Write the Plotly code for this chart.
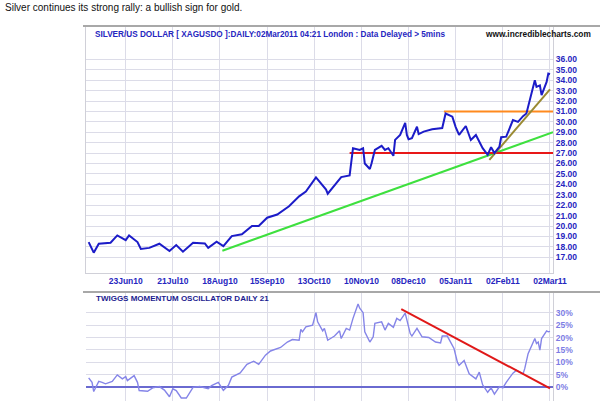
import plotly.graph_objects as go

# ---------------- data ----------------
price_dates = ["2010-06-01","2010-06-04","2010-06-07","2010-06-14","2010-06-18","2010-06-23","2010-06-25",
    "2010-06-30","2010-07-02","2010-07-07","2010-07-13","2010-07-19","2010-07-23","2010-07-27","2010-08-02",
    "2010-08-09","2010-08-11","2010-08-16","2010-08-20","2010-08-25","2010-08-31","2010-09-06","2010-09-10",
    "2010-09-15","2010-09-21","2010-09-28","2010-10-04","2010-10-08","2010-10-14","2010-10-20","2010-10-21",
    "2010-10-26","2010-10-29","2010-11-03","2010-11-05","2010-11-09","2010-11-11","2010-11-12","2010-11-15",
    "2010-11-16","2010-11-18","2010-11-22","2010-11-24","2010-11-26","2010-11-29","2010-11-30","2010-12-03",
    "2010-12-06","2010-12-07","2010-12-08","2010-12-10","2010-12-13","2010-12-14","2010-12-17","2010-12-22",
    "2010-12-28","2010-12-29","2010-12-30","2011-01-03","2011-01-05","2011-01-07","2011-01-11","2011-01-14",
    "2011-01-17","2011-01-21","2011-01-24","2011-01-26","2011-01-28","2011-01-31","2011-02-01","2011-02-04",
    "2011-02-08","2011-02-11","2011-02-14","2011-02-16","2011-02-18","2011-02-21","2011-02-22","2011-02-24",
    "2011-02-25","2011-02-28","2011-03-01","2011-03-02"]
price_values = [18.46,17.44,18.3,18.4,19.1,18.65,19.1,18.46,17.8,17.9,18.3,17.6,18.17,17.54,18.4,
    18.33,17.9,18.5,18.07,19.03,19.2,20.0,20.0,20.8,21.1,21.9,22.85,23.3,24.66,23.5,23.1,
    24.06,24.7,24.86,27.47,27.3,27.47,26.0,25.47,26.0,27.3,27.7,27.3,27.47,26.74,28.27,28.74,
    29.9,28.74,28.33,28.43,29.53,28.83,29.06,29.28,29.4,30.24,30.8,30.5,29.5,28.74,29.6,28.26,
    28.74,27.47,26.83,27.57,27.0,27.63,28.52,28.58,30.17,30.0,30.55,30.8,32.08,34.0,33.36,33.5,
    32.56,33.83,34.63,34.57]

osc_dates = ["2010-06-01","2010-06-03","2010-06-04","2010-06-07","2010-06-09","2010-06-11","2010-06-15",
    "2010-06-18","2010-06-21","2010-06-23","2010-06-24","2010-06-28","2010-06-30","2010-07-01","2010-07-06",
    "2010-07-09","2010-07-13","2010-07-16","2010-07-19","2010-07-21","2010-07-23","2010-07-26","2010-07-29",
    "2010-08-02","2010-08-06","2010-08-11","2010-08-13","2010-08-17","2010-08-20","2010-08-23","2010-08-25",
    "2010-08-30","2010-09-03","2010-09-07","2010-09-10","2010-09-14","2010-09-17","2010-09-23","2010-09-27",
    "2010-09-30","2010-10-04","2010-10-05","2010-10-06","2010-10-08","2010-10-12","2010-10-14","2010-10-15",
    "2010-10-18","2010-10-19","2010-10-21","2010-10-25","2010-10-28","2010-10-29","2010-11-01","2010-11-03",
    "2010-11-05","2010-11-08","2010-11-09","2010-11-11","2010-11-12","2010-11-15","2010-11-17","2010-11-18",
    "2010-11-22","2010-11-24","2010-11-26","2010-11-29","2010-12-01","2010-12-03","2010-12-06","2010-12-09",
    "2010-12-10","2010-12-13","2010-12-16","2010-12-20","2010-12-24","2010-12-27","2010-12-28","2010-12-31",
    "2011-01-04","2011-01-06","2011-01-07","2011-01-10","2011-01-13","2011-01-17","2011-01-19","2011-01-21",
    "2011-01-24","2011-01-26","2011-01-28","2011-01-31","2011-02-02","2011-02-04","2011-02-08","2011-02-10",
    "2011-02-14","2011-02-15","2011-02-17","2011-02-21","2011-02-22","2011-02-23","2011-02-24","2011-02-25",
    "2011-02-28","2011-03-01","2011-03-02"]
osc_values = [3.8,2.0,-1.7,2.4,2.0,1.4,2.4,5.0,3.4,4.3,2.7,4.7,2.0,-1.3,-1.6,-0.2,0.3,-1.1,-3.8,-0.6,
    -1.3,-4.3,-4.3,0.0,0.3,-0.6,0.7,2.0,-1.2,0.8,4.1,5.8,9.2,10.5,9.2,12.9,14.6,16.0,18.2,19.2,18.9,
    23.3,22.3,24.3,25.0,30.0,26.3,22.7,23.7,18.9,20.6,22.7,19.6,23.7,23.0,27.7,33.5,31.8,30.0,22.3,
    18.2,20.3,25.7,26.3,23.0,25.7,24.1,27.7,26.8,29.8,21.6,20.6,23.7,20.3,20.0,18.2,17.8,20.6,20.6,
    15.6,10.1,8.8,10.8,5.4,3.4,6.1,1.0,-2.0,-0.2,-2.7,0.3,-0.2,2.0,5.7,6.8,5.4,7.5,13.5,19.6,17.6,
    18.2,14.9,19.6,22.7,22.3,22.5]

# trend lines drawn on the chart
green_dates = ["2010-08-19 10:00", "2011-03-03 19:00"]
green_values = [17.63, 29.0]
red_dates = ["2010-11-03", "2011-03-03 19:00"]
red_values = [27.0, 27.0]
orange_dates = ["2010-12-29", "2011-03-03 19:00"]
orange_values = [31.0, 31.0]
olive_dates = ["2011-01-25", "2011-03-02"]
olive_values = [26.34, 33.12]
osc_trend_dates = ["2010-12-03 16:00", "2011-03-02"]
osc_trend_values = [31.4, -0.4]

x_ticks = ["2010-06-23","2010-07-21","2010-08-18","2010-09-15","2010-10-13","2010-11-10",
           "2010-12-08","2011-01-05","2011-02-02","2011-03-02"]
price_ticks = list(range(17, 37))
osc_ticks = [0, 5, 10, 15, 20, 25, 30]

# ---------------- figure ----------------
W, H = 600, 401
FONT = "Liberation Sans, Arial, sans-serif"
BLUE = "#2626c0"
GRID = "#dcdce8"
x_range = ["2010-05-30 10:00", "2011-03-03 19:00"]

def py(px):
    return 1 - px / H

fig = go.Figure()
fig.add_trace(go.Scatter(x=green_dates, y=green_values, mode="lines",
                         line=dict(color="#3ee03e", width=2), xaxis="x", yaxis="y"))
fig.add_trace(go.Scatter(x=red_dates, y=red_values, mode="lines",
                         line=dict(color="#e81818", width=2), xaxis="x", yaxis="y"))
fig.add_trace(go.Scatter(x=orange_dates, y=orange_values, mode="lines",
                         line=dict(color="#ff8a1e", width=2), xaxis="x", yaxis="y"))
fig.add_trace(go.Scatter(x=olive_dates, y=olive_values, mode="lines",
                         line=dict(color="#9a8a32", width=2), xaxis="x", yaxis="y"))
fig.add_trace(go.Scatter(x=price_dates, y=price_values, mode="lines",
                         line=dict(color="#1c1cc8", width=2), xaxis="x", yaxis="y"))
fig.add_trace(go.Scatter(x=osc_dates, y=osc_values, mode="lines",
                         line=dict(color="#8585e8", width=1.4), xaxis="x2", yaxis="y2"))
fig.add_trace(go.Scatter(x=osc_trend_dates, y=osc_trend_values, mode="lines",
                         line=dict(color="#e01818", width=2), xaxis="x2", yaxis="y2"))

xdom = [86 / W, 553 / W]
fig.update_layout(
    width=W, height=H, autosize=False,
    margin=dict(l=0, r=0, t=0, b=0),
    paper_bgcolor="white", plot_bgcolor="white",
    showlegend=False,
    font=dict(family=FONT),
    xaxis=dict(domain=xdom, anchor="y", type="date", range=x_range, automargin=False,
               tickvals=x_ticks, tickformat="%d%b%y", showgrid=True, gridcolor=GRID,
               gridwidth=1, ticks="", showline=True, linecolor="#d0d0d8", mirror=True,
               tickfont=dict(size=8.5, color=BLUE, weight="bold")),
    yaxis=dict(domain=[py(273), py(26)], anchor="x", side="right", range=[15.49, 39.2],
               automargin=False,
               tickvals=price_ticks, ticktext=["%.2f" % v for v in price_ticks],
               showgrid=True, gridcolor=GRID, gridwidth=1, ticks="", zeroline=False,
               showline=True, linecolor="#d0d0d8", mirror=True,
               tickfont=dict(size=8.5, color=BLUE, weight="bold")),
    xaxis2=dict(domain=xdom, anchor="y2", type="date", range=x_range, automargin=False,
                tickvals=x_ticks, showticklabels=False, showgrid=True, gridcolor=GRID,
                ticks="", showline=False),
    yaxis2=dict(domain=[0, py(292)], anchor="x2", side="right", range=[-5.5, 38.3],
                automargin=False,
                tickvals=osc_ticks, ticktext=["%d%%" % v for v in osc_ticks],
                showgrid=True, gridcolor=GRID, ticks="", zeroline=True,
                zerolinecolor="#6a6ad0", zerolinewidth=1.6, showline=True, linecolor="#d0d0d8",
                tickfont=dict(size=8.5, color="#7c7ce4", weight="bold")),
)

fig.add_shape(type="line", xref="paper", yref="paper", x0=83 / W, x1=1, y0=py(26), y1=py(26),
              line=dict(color="#a8a8a8", width=2))
fig.add_shape(type="line", xref="paper", yref="paper", x0=83 / W, x1=1, y0=py(292), y1=py(292),
              line=dict(color="#a8a8a8", width=2))

fig.add_annotation(text="Silver continues its strong rally: a bullish sign for gold.",
                   xref="paper", yref="paper", x=3 / W, y=py(8), xanchor="left", yanchor="middle",
                   showarrow=False, font=dict(size=10, color="#111111", family=FONT))
fig.add_annotation(text="SILVER/US DOLLAR [ XAGUSDO ]:DAILY:02Mar2011 04:21 London : Data Delayed &gt; 5mins",
                   xref="paper", yref="paper", x=93 / W, y=py(34), xanchor="left", yanchor="middle",
                   showarrow=False, font=dict(size=8.2, color=BLUE, family=FONT, weight="bold"))
fig.add_annotation(text="www.incrediblecharts.com",
                   xref="paper", yref="paper", x=593 / W, y=py(34), xanchor="right", yanchor="middle",
                   showarrow=False, font=dict(size=8.3, color="#111111", family=FONT, weight="bold"))
fig.add_annotation(text="TWIGGS MOMENTUM OSCILLATOR DAILY 21",
                   xref="paper", yref="paper", x=94 / W, y=py(298), xanchor="left", yanchor="middle",
                   showarrow=False, font=dict(size=8, color="#1c1c90", family=FONT, weight="bold"))

fig.write_html("out.html")
